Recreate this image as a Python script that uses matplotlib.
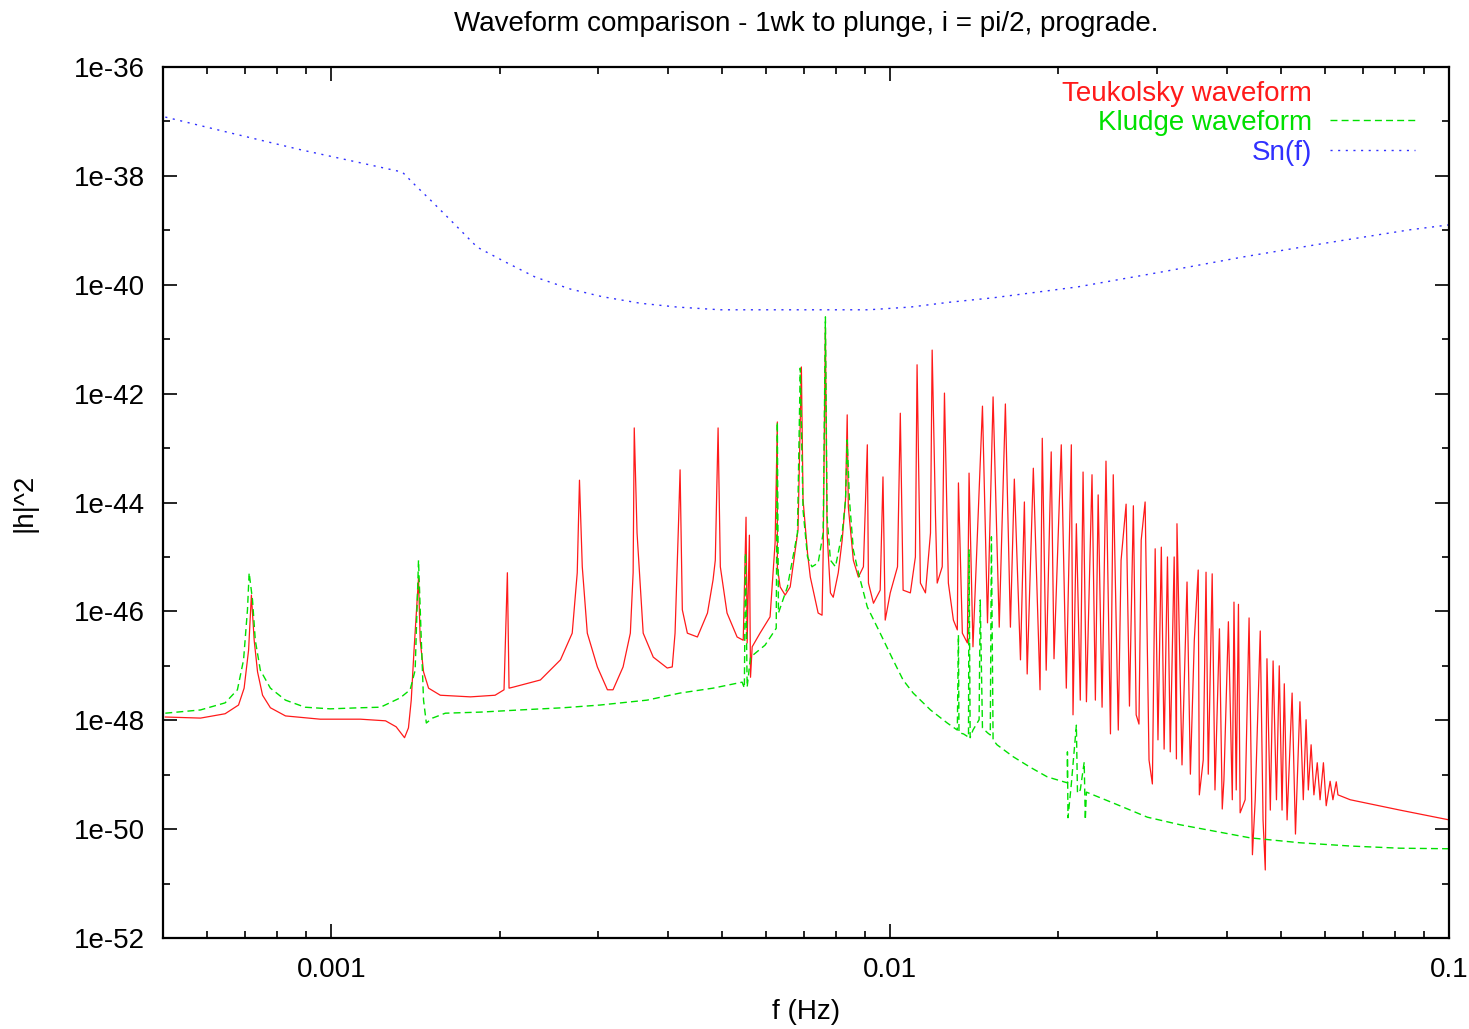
import numpy as np
import matplotlib
matplotlib.use("Agg")
import matplotlib.pyplot as plt
from matplotlib.lines import Line2D
from matplotlib.ticker import FixedLocator, LogLocator, NullFormatter

plt.rcParams["font.family"] = ["Liberation Sans", "DejaVu Sans"]

# log10(f / Hz) and log10(|h|^2)
teuk_logf = [
    -3.297, -3.234, -3.190, -3.166, -3.156, -3.148, -3.143, -3.138, -3.132, -3.123,
    -3.109, -3.082, -3.020, -2.948, -2.903, -2.884, -2.869, -2.862, -2.857, -2.852,
    -2.844, -2.841, -2.835, -2.826, -2.805, -2.751, -2.707, -2.691, -2.685, -2.682,
    -2.674, -2.626, -2.590, -2.569, -2.560, -2.556, -2.551, -2.542, -2.524, -2.506,
    -2.496, -2.478, -2.465, -2.460, -2.458, -2.453, -2.442, -2.424, -2.399, -2.390,
    -2.385, -2.379, -2.376, -2.372, -2.363, -2.345, -2.327, -2.317, -2.313, -2.308,
    -2.304, -2.292, -2.274, -2.263, -2.258, -2.256, -2.252, -2.250, -2.247, -2.233,
    -2.215, -2.206, -2.202, -2.202, -2.197, -2.188, -2.179, -2.170, -2.165, -2.159,
    -2.156, -2.148, -2.143, -2.134, -2.129, -2.122, -2.120, -2.116, -2.113, -2.107,
    -2.102, -2.093, -2.086, -2.080, -2.077, -2.075, -2.066, -2.057, -2.048, -2.041,
    -2.039, -2.030, -2.018, -2.013, -2.009, -2.000, -1.987, -1.982, -1.977, -1.964,
    -1.955, -1.952, -1.946, -1.937, -1.928, -1.925, -1.919, -1.916, -1.907, -1.903,
    -1.896, -1.887, -1.880, -1.878, -1.871, -1.862, -1.859, -1.852, -1.835, -1.826,
    -1.816, -1.805, -1.794, -1.785, -1.778, -1.767, -1.760, -1.755, -1.744, -1.732,
    -1.728, -1.721, -1.712, -1.707, -1.694, -1.685, -1.676, -1.673, -1.667, -1.660,
    -1.655, -1.649, -1.639, -1.633, -1.628, -1.621, -1.614, -1.606, -1.601, -1.592,
    -1.587, -1.578, -1.572, -1.565, -1.560, -1.555, -1.551, -1.544, -1.537, -1.531,
    -1.526, -1.521, -1.515, -1.510, -1.504, -1.499, -1.492, -1.488, -1.487, -1.478,
    -1.469, -1.463, -1.456, -1.449, -1.447, -1.440, -1.435, -1.431, -1.424, -1.419,
    -1.411, -1.406, -1.403, -1.395, -1.388, -1.385, -1.381, -1.377, -1.374, -1.365,
    -1.358, -1.352, -1.347, -1.338, -1.333, -1.329, -1.326, -1.320, -1.315, -1.309,
    -1.304, -1.299, -1.295, -1.290, -1.281, -1.275, -1.267, -1.261, -1.256, -1.252,
    -1.247, -1.242, -1.236, -1.231, -1.225, -1.220, -1.213, -1.208, -1.202, -1.199,
    -1.177, -1.088, -1.000,
]
teuk_logh = [
    -47.94, -47.96, -47.88, -47.72, -47.41, -46.71, -45.70, -46.53, -47.11, -47.54,
    -47.77, -47.92, -47.98, -47.98, -48.01, -48.12, -48.32, -48.14, -47.63, -46.71,
    -45.39, -46.53, -47.11, -47.41, -47.54, -47.57, -47.54, -47.44, -45.29, -47.41,
    -47.39, -47.26, -46.89, -46.40, -45.29, -43.59, -45.18, -46.40, -47.02, -47.44,
    -47.44, -47.02, -46.40, -45.29, -42.63, -44.56, -46.40, -46.84, -47.04, -47.02,
    -46.40, -44.45, -43.40, -45.97, -46.40, -46.47, -46.03, -45.42, -45.06, -42.63,
    -45.18, -46.03, -46.47, -46.53, -44.27, -46.58, -44.60, -47.21, -46.65, -46.40,
    -46.10, -44.74, -42.52, -45.18, -45.55, -45.70, -45.55, -44.87, -44.50, -41.51,
    -43.95, -44.93, -45.37, -45.79, -46.03, -46.07, -44.93, -40.78, -44.56, -45.66,
    -45.74, -45.29, -44.69, -43.95, -42.39, -44.08, -45.06, -45.37, -45.18, -42.94,
    -45.48, -45.85, -45.61, -43.53, -46.16, -45.66, -45.18, -42.36, -45.61, -45.66,
    -45.00, -41.47, -45.48, -45.66, -44.56, -41.20, -44.27, -45.48, -45.18, -41.99,
    -45.48, -46.16, -46.34, -43.64, -46.40, -46.58, -43.46, -46.65, -42.23, -46.21,
    -42.06, -46.29, -42.19, -46.29, -43.57, -46.89, -43.99, -47.15, -43.37, -47.44,
    -42.82, -47.08, -43.07, -46.87, -42.94, -47.41, -42.94, -47.90, -44.39, -47.63,
    -43.44, -47.66, -43.49, -47.63, -43.86, -47.76, -43.24, -48.25, -43.49, -48.18,
    -45.06, -44.03, -47.74, -44.06, -47.90, -48.07, -44.69, -43.99, -48.73, -49.17,
    -44.85, -48.36, -44.82, -48.53, -45.00, -48.58, -45.00, -48.71, -44.39, -48.82,
    -45.46, -48.99, -46.53, -45.24, -49.37, -48.73, -45.28, -48.99, -45.31, -49.28,
    -46.32, -49.63, -49.10, -46.19, -49.46, -45.83, -49.28, -45.87, -49.70, -49.46,
    -46.12, -50.47, -49.46, -46.36, -49.83, -50.75, -46.87, -49.65, -46.91, -49.46,
    -47.00, -49.65, -47.33, -49.83, -47.50, -50.09, -47.66, -49.46, -47.99, -49.28,
    -48.45, -49.37, -48.78, -49.46, -48.78, -49.57, -49.12, -49.46, -49.13, -49.37,
    -49.46, -49.65, -49.83,
]

kludge_logf = [
    -3.297, -3.234, -3.190, -3.168, -3.157, -3.150, -3.147, -3.141, -3.136, -3.127,
    -3.109, -3.082, -3.047, -3.002, -2.948, -2.912, -2.877, -2.859, -2.850, -2.844,
    -2.839, -2.835, -2.830, -2.819, -2.796, -2.733, -2.662, -2.585, -2.519, -2.435,
    -2.376, -2.317, -2.265, -2.261, -2.259, -2.256, -2.250, -2.224, -2.204, -2.202,
    -2.200, -2.184, -2.166, -2.161, -2.156, -2.148, -2.140, -2.129, -2.120, -2.116,
    -2.113, -2.107, -2.098, -2.086, -2.080, -2.077, -2.073, -2.066, -2.057, -2.041,
    -2.018, -1.995, -1.977, -1.959, -1.928, -1.898, -1.880, -1.878, -1.877, -1.869,
    -1.860, -1.859, -1.857, -1.852, -1.841, -1.839, -1.835, -1.826, -1.821, -1.819,
    -1.816, -1.809, -1.780, -1.750, -1.719, -1.683, -1.683, -1.682, -1.676, -1.667,
    -1.665, -1.660, -1.653, -1.651, -1.649, -1.601, -1.540, -1.481, -1.356, -1.267,
    -1.177, -1.088, -1.000,
]
kludge_logh = [
    -47.87, -47.81, -47.68, -47.44, -46.89, -45.97, -45.29, -45.79, -46.53, -47.08,
    -47.41, -47.63, -47.76, -47.79, -47.77, -47.76, -47.59, -47.44, -47.08, -45.06,
    -46.53, -47.63, -48.05, -47.96, -47.87, -47.85, -47.81, -47.77, -47.72, -47.63,
    -47.50, -47.41, -47.30, -47.41, -44.93, -47.39, -46.84, -46.62, -46.31, -42.52,
    -46.03, -45.55, -44.56, -41.53, -44.14, -45.00, -45.18, -45.11, -44.56, -40.59,
    -44.27, -45.06, -45.18, -44.56, -43.95, -42.85, -43.95, -44.87, -45.29, -45.92,
    -46.40, -46.89, -47.26, -47.50, -47.81, -48.05, -48.18, -46.43, -48.23, -48.25,
    -48.31, -44.87, -48.32, -48.18, -47.99, -45.79, -48.14, -48.23, -48.27, -44.63,
    -48.36, -48.45, -48.67, -48.86, -49.04, -49.15, -48.58, -49.79, -49.17, -48.09,
    -49.34, -49.28, -48.77, -49.83, -49.32, -49.52, -49.78, -49.92, -50.16, -50.25,
    -50.31, -50.35, -50.36,
]

sn_logf = [
    -3.297, -3.181, -3.055, -2.948, -2.873, -2.850, -2.823, -2.787, -2.739, -2.689,
    -2.635, -2.572, -2.515, -2.447, -2.381, -2.304, -2.233, -2.039, -1.964, -1.893,
    -1.816, -1.665, -1.517, -1.369, -1.218, -1.070, -1.000,
]
sn_logh = [
    -36.92, -37.21, -37.52, -37.76, -37.93, -38.17, -38.44, -38.81, -39.31, -39.58,
    -39.86, -40.08, -40.22, -40.34, -40.41, -40.46, -40.46, -40.46, -40.41, -40.32,
    -40.24, -40.04, -39.77, -39.49, -39.23, -38.99, -38.90,
]

ytick_exp = [-52, -50, -48, -46, -44, -42, -40, -38, -36]
xtick_vals = [0.001, 0.01, 0.1]
xtick_labels = ["0.001", "0.01", "0.1"]

FS = 20

fig = plt.figure(figsize=(14.69, 10.29), dpi=100)
ax = fig.add_axes([0.111, 0.0884, 0.8755, 0.8465])

ax.plot(10 ** np.array(teuk_logf), 10 ** np.array(teuk_logh),
        color="#ff1a1a", lw=0.9, label="Teukolsky waveform")
ax.plot(10 ** np.array(kludge_logf), 10 ** np.array(kludge_logh),
        color="#00e000", lw=1.0, dashes=(5, 3), label="Kludge waveform")
ax.plot(10 ** np.array(sn_logf), 10 ** np.array(sn_logh),
        color="#3030ff", lw=1.0, dashes=(1.5, 4), label="Sn(f)")

ax.set_xscale("log")
ax.set_yscale("log")
ax.set_xlim(5e-4, 0.1)
ax.set_ylim(1e-52, 1e-36)

ax.set_xticks(xtick_vals)
ax.set_xticklabels(xtick_labels)
ax.xaxis.set_minor_locator(LogLocator(base=10, subs=np.arange(2, 10)))
ax.xaxis.set_minor_formatter(NullFormatter())

ax.yaxis.set_major_locator(FixedLocator([10.0 ** e for e in ytick_exp]))
ax.set_yticklabels([f"1e{e}" for e in ytick_exp])
ax.yaxis.set_minor_locator(FixedLocator([10.0 ** e for e in range(-51, -36, 2)]))
ax.yaxis.set_minor_formatter(NullFormatter())

ax.tick_params(which="both", direction="in", top=True, right=True,
               labelsize=FS, width=1.2)
ax.tick_params(which="major", length=10)
ax.tick_params(which="minor", length=5)
ax.tick_params(axis="y", pad=13)
ax.tick_params(axis="x", pad=14)
for s in ax.spines.values():
    s.set_linewidth(1.6)

ax.set_title("Waveform comparison - 1wk to plunge, i = pi/2, prograde.",
             fontsize=FS, pad=26)
ax.set_xlabel("f (Hz)", fontsize=FS, labelpad=11)
ax.set_ylabel("|h|^2", fontsize=FS, labelpad=26)

# gnuplot style key: text right aligned, sample to its right
h = ax.get_lines()
key_red = Line2D([], [], color="none")
leg = ax.legend([key_red, h[1], h[2]],
                ["Teukolsky waveform", "Kludge waveform", "Sn(f)"],
                loc="upper right", bbox_to_anchor=(0.9736, 0.9844),
                frameon=False, markerfirst=False, fontsize=FS,
                handlelength=3.06, handletextpad=0.65,
                labelspacing=0.13, borderaxespad=0, borderpad=0)
for txt, c in zip(leg.get_texts(), ["#ff1a1a", "#00e000", "#3030ff"]):
    txt.set_color(c)

fig.savefig("out.png", dpi=100)
